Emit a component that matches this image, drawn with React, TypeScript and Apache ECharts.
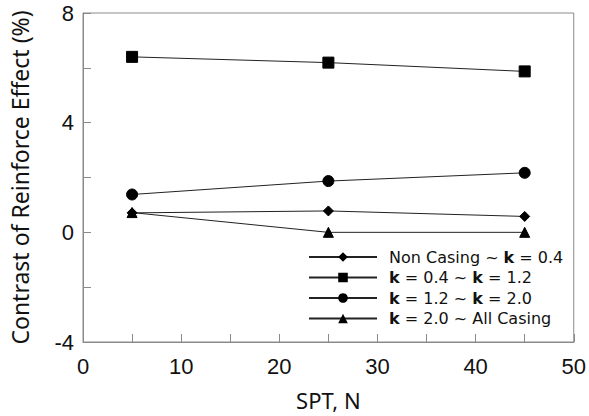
import React, { useEffect, useRef } from "react";
import * as echarts from "echarts";

const spt = [5, 25, 45];
const seriesNames = ["Non Casing ~ k = 0.4", "k = 0.4 ~ k = 1.2", "k = 1.2 ~ k = 2.0", "k = 2.0 ~ All Casing"];
const legendRich = [
  "Non Casing ~ {b|k} = 0.4",
  "{b|k} = 0.4 ~ {b|k} = 1.2",
  "{b|k} = 1.2 ~ {b|k} = 2.0",
  "{b|k} = 2.0 ~ All Casing",
];
const nonCasingK04 = [0.71, 0.78, 0.58];
const k04K12 = [6.4, 6.19, 5.87];
const k12K20 = [1.38, 1.87, 2.17];
const k20AllCasing = [0.72, 0, 0];
const symbols = ["diamond", "rect", "circle", "triangle"];
const symbolSizes = [10, 11, 11, 10];
const xTickStep = 5;
const yTickStep = 2;

const FONT = "'Noto Sans', 'Open Sans', sans-serif";
const TICK_FONT = "'Liberation Sans', 'Noto Sans', sans-serif";
const LEGEND_FONT = "'DejaVu Sans', 'Noto Sans', sans-serif";

export default function App() {
  const ref = useRef<HTMLDivElement>(null);
  useEffect(() => {
    if (!ref.current) return;
    const chart = echarts.init(ref.current, null, { renderer: "svg" });
    const values = [nonCasingK04, k04K12, k12K20, k20AllCasing];
    const gray = "#8a8a8a";
    chart.setOption({
      animation: false,
      backgroundColor: "#fff",
      textStyle: { fontFamily: FONT },
      grid: {
        left: 80,
        right: 12,
        top: 13,
        bottom: 70,
        show: true,
        borderColor: gray,
        borderWidth: 1,
        backgroundColor: "transparent",
      },
      legend: {
        orient: "vertical",
        left: 303,
        top: 243,
        itemWidth: 68,
        itemHeight: 12,
        itemGap: 2.5,
        data: seriesNames,
        formatter: (name: string) => legendRich[seriesNames.indexOf(name)],
        textStyle: {
          fontFamily: LEGEND_FONT,
          fontSize: 16,
          lineHeight: 18,
          color: "#111",
          padding: [0, 0, 0, 7],
          rich: {
            b: { fontFamily: LEGEND_FONT, fontSize: 16, lineHeight: 18, fontWeight: "bold", color: "#111" },
          },
        },
      },
      xAxis: {
        type: "value",
        min: 0,
        max: 50,
        interval: xTickStep,
        name: "SPT, N",
        nameLocation: "middle",
        nameGap: 47,
        nameTextStyle: { fontFamily: FONT, fontSize: 22, color: "#111" },
        axisLine: { show: true, onZero: false, lineStyle: { color: gray, width: 1 } },
        axisTick: { show: true, inside: true, length: 8, lineStyle: { color: gray } },
        axisLabel: {
          fontFamily: TICK_FONT,
          fontSize: 22,
          color: "#111",
          margin: 13,
          formatter: (v: number) => (v % 10 === 0 ? String(v) : ""),
        },
        splitLine: { show: false },
      },
      yAxis: {
        type: "value",
        min: -4,
        max: 8,
        interval: yTickStep,
        name: "Contrast of Reinforce Effect (%)",
        nameLocation: "middle",
        nameGap: 52,
        nameTextStyle: { fontFamily: FONT, fontSize: 23, color: "#111" },
        axisLine: { show: true, onZero: false, lineStyle: { color: gray, width: 1 } },
        axisTick: { show: true, inside: true, length: 8, lineStyle: { color: gray } },
        axisLabel: {
          fontFamily: TICK_FONT,
          fontSize: 22,
          lineHeight: 20,
          color: "#111",
          margin: 9,
          formatter: (v: number) => (v % 4 === 0 ? String(v) : ""),
        },
        splitLine: { show: false },
      },
      series: values.map((vals, i) => ({
        name: seriesNames[i],
        type: "line",
        data: spt.map((x, j) => [x, vals[j]]),
        symbol: symbols[i],
        symbolSize: symbolSizes[i],
        showSymbol: true,
        z: i === 0 ? 5 : 3,
        lineStyle: { color: "#222", width: 1 },
        itemStyle: { color: "#000", borderColor: "#000" },
        color: "#000",
      })),
    });
    return () => chart.dispose();
  }, []);
  return (
    <div style={{ position: "fixed", left: 0, top: 0 }}>
      <div ref={ref} style={{ width: 589, height: 416 }} />
    </div>
  );
}
